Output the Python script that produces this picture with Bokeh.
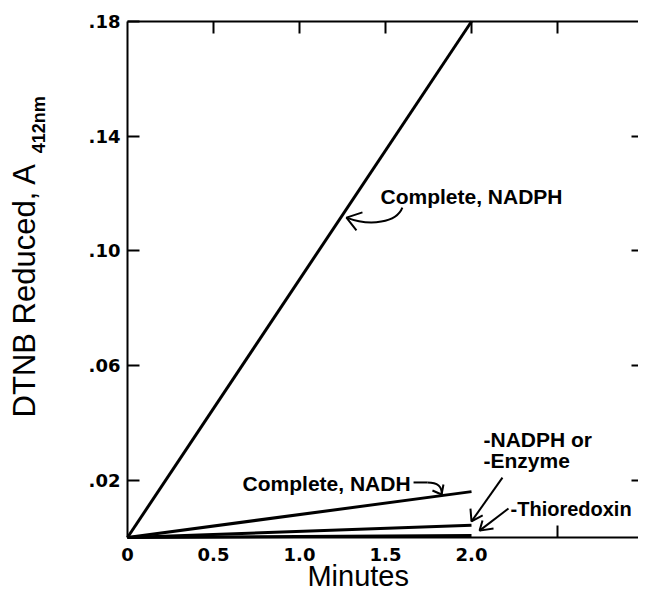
import math
from bokeh.plotting import figure
from bokeh.models import Range1d, LinearAxis, FixedTicker, Label
from bokeh.embed import file_html
from bokeh.resources import INLINE

# ---- data ----
minutes = [0.0, 2.0]
complete_nadph = [0.0, 0.18]
complete_nadh = [0.0, 0.016]
minus_nadph_or_enzyme = [0.0, 0.0043]
minus_thioredoxin = [0.0, 0.0007]

x_ticks = [0.0, 0.5, 1.0, 1.5, 2.0, 2.5]
x_tick_labels = ["0", "0.5", "1.0", "1.5", "2.0", ""]
y_ticks = [0.02, 0.06, 0.10, 0.14, 0.18]
y_tick_labels = [".02", ".06", ".10", ".14", ".18"]
x_axis_end = 3.0
y_axis_end = 0.18

TICK_FONT = "DejaVu Sans"
ANN_FONT = "Liberation Sans"

W, H = 638, 593
# pixel geometry of the axes box inside the canvas
LEFT_PX, BOTTOM_PX, TOP_PX = 127, 537, 21
TICK_LEN = 12
PX_PER_X = 172.0
PX_PER_Y = (BOTTOM_PX - TOP_PX) / y_axis_end

x_range = Range1d(-LEFT_PX / PX_PER_X, (W - LEFT_PX) / PX_PER_X)
y_range = Range1d((BOTTOM_PX - H) / PX_PER_Y, y_axis_end + TOP_PX / PX_PER_Y)

p = figure(width=W, height=H, output_backend="svg", toolbar_location=None,
           title=None, x_range=x_range, y_range=y_range,
           x_axis_type=None, y_axis_type=None,
           min_border=0, min_border_left=0, min_border_right=0,
           min_border_top=0, min_border_bottom=0)
p.outline_line_color = None
p.outline_line_alpha = 0
p.background_fill_color = "white"
p.border_fill_color = "white"


def make_axis(ticks, labels=None, loc=0.0, bounds=None, tick_in=TICK_LEN, tick_out=0,
              line=True, standoff=7):
    ax = LinearAxis(ticker=FixedTicker(ticks=ticks), fixed_location=loc)
    if bounds is not None:
        ax.bounds = bounds
    if labels is None:
        ax.major_label_overrides = {t: "" for t in ticks}
        ax.major_label_text_font_size = "0px"
        ax.major_label_standoff = 0
    else:
        ax.major_label_overrides = dict(zip(ticks, labels))
        ax.major_label_standoff = standoff
        ax.major_label_text_font = TICK_FONT
        ax.major_label_text_font_style = "bold"
        ax.major_label_text_font_size = "18px"
        ax.major_label_text_color = "black"
    ax.major_tick_in = tick_in
    ax.major_tick_out = tick_out
    ax.major_tick_line_width = 2
    ax.major_tick_line_color = "black"
    ax.minor_tick_line_color = None
    if line:
        ax.axis_line_width = 2
        ax.axis_line_color = "black"
    else:
        ax.axis_line_color = None
        ax.axis_line_alpha = 0
        ax.axis_line_width = 0
    return ax

# bottom: labels, no ticks (hidden under the lines in the original)
p.add_layout(make_axis(x_ticks, x_tick_labels, loc=0.0, bounds=(0, x_axis_end),
                       tick_in=0, standoff=10), "below")
# left
p.add_layout(make_axis(y_ticks, y_tick_labels, loc=0.0, bounds=(0, y_axis_end),
                       tick_in=TICK_LEN, standoff=7), "left")
# top
p.add_layout(make_axis(x_ticks[1:], None, loc=y_axis_end, bounds=(0, x_axis_end),
                       tick_in=TICK_LEN), "above")
# right (ticks only)
p.add_layout(make_axis(y_ticks[:-1], None, loc=x_axis_end, bounds=(0, y_axis_end),
                       tick_in=TICK_LEN, line=False), "right")

# single visible bottom tick (at the last x tick, 2.5)
p.segment(x0=[x_ticks[-1]], y0=[0.0], x1=[x_ticks[-1]], y1=[TICK_LEN / PX_PER_Y],
          line_color="black", line_width=2, level="overlay")

# ---- data lines ----
for ys in (complete_nadph, complete_nadh, minus_nadph_or_enzyme, minus_thioredoxin):
    p.line(minutes, ys, line_color="black", line_width=3)

# ---- annotations (positions are text centre lines) ----
def add_text(x, y, text, size="21px", font=ANN_FONT, style="bold", angle=0.0):
    p.add_layout(Label(x=x, y=y, text=text, text_font=font, text_font_size=size,
                       text_font_style=style, text_color="black", angle=angle,
                       text_align="left", text_baseline="middle",
                       background_fill_color=None, border_line_color=None))

add_text(1.471, 0.1191, "Complete, NADPH")
add_text(0.669, 0.0190, "Complete, NADH")
add_text(2.070, 0.0343, "-NADPH or")
add_text(2.070, 0.0267, "-Enzyme")
add_text(2.227, 0.0101, "-Thioredoxin", size="20px")

# axis titles
add_text(-0.598, 0.0419, "DTNB Reduced, A", size="31px", style="normal", angle=math.pi / 2)
add_text(-0.513, 0.134, "412nm", size="18px", style="bold", angle=math.pi / 2)
add_text(1.046, -0.0136, "Minutes", size="29px", style="normal")

AW = 2
# NADPH curved arrow
p.bezier(x0=[1.598], y0=[0.1151], x1=[1.273], y1=[0.1116],
         cx0=[1.564], cy0=[0.1099], cx1=[1.413], cy1=[0.1084],
         line_color="black", line_width=AW)
p.multi_line([[1.366, 1.273, 1.331]], [[0.1134, 0.1116, 0.1071]],
             line_color="black", line_width=AW)

# NADH leader + curved arrow
p.line([1.663, 1.744], [0.0192, 0.0192], line_color="black", line_width=AW)
p.bezier(x0=[1.744], y0=[0.0192], x1=[1.826], y1=[0.0150],
         cx0=[1.802], cy0=[0.0192], cx1=[1.831], cy1=[0.0178],
         line_color="black", line_width=AW)
p.multi_line([[1.773, 1.826, 1.837]], [[0.0164, 0.0150, 0.0185]],
             line_color="black", line_width=AW)

# -Enzyme arrow
p.line([2.180, 2.0], [0.0209, 0.0056], line_color="black", line_width=AW)
p.multi_line([[1.994, 2.0, 2.065]], [[0.0101, 0.0056, 0.0077]],
             line_color="black", line_width=AW)

# -Thioredoxin arrow
p.line([2.215, 2.047], [0.0101, 0.0024], line_color="black", line_width=AW)
p.multi_line([[2.064, 2.047, 2.128]], [[0.0059, 0.0024, 0.0031]],
             line_color="black", line_width=AW)

open("out.html", "w").write(file_html(p, INLINE))
